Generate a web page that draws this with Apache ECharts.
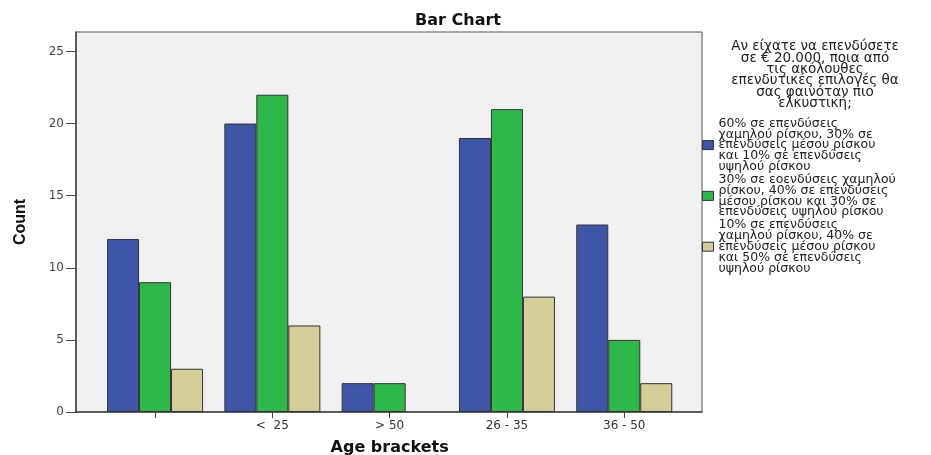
<!DOCTYPE html>
<html>
<head>
<meta charset="utf-8">
<script src="https://cdn.jsdelivr.net/npm/echarts@6/dist/echarts.min.js"></script>
<style>
  html, body { margin: 0; padding: 0; background: #fff; }
  #chart { width: 931px; height: 455px; }
</style>
</head>
<body>
<div id="chart"></div>
<script>
'use strict';

var categories = ['', '<  25', '> 50', '26 - 35', '36 - 50'];
var lowRisk = [12, 20, 2, 19, 13];
var midRisk = [9, 22, 2, 21, 5];
var highRisk = [3, 6, null, 8, 2];
var yTicks = [0, 5, 10, 15, 20, 25];

var seriesNames = [
  '60% σε επενδύσεις\nχαμηλού ρίσκου, 30% σε\nεπενδύσεις μέσου ρίσκου\nκαι 10% σε επενδύσεις\nυψηλού ρίσκου',
  '30% σε εοενδύσεις χαμηλού\nρίσκου, 40% σε επενδύσεις\nμέσου ρίσκου και 30% σε\nεπενδύσεις υψηλού ρίσκου',
  '10% σε επενδύσεις\nχαμηλού ρίσκου, 40% σε\nεπενδύσεις μέσου ρίσκου\nκαι 50% σε επενδύσεις\nυψηλού ρίσκου'
];
var legendTitle = 'Αν είχατε να επενδύσετε\nσε € 20.000, ποια από\nτις ακόλουθες\nεπενδυτικές επιλογές θα\nσας φαινόταν πιο\nελκυστική;';

var font = '"DejaVu Sans", "Liberation Sans", sans-serif';
var yMax = 26.35;

function bar(name, data, color) {
  return {
    name: name,
    type: 'bar',
    xAxisIndex: 1,
    yAxisIndex: 1,
    data: data,
    barWidth: 32,
    barGap: '0%',
    itemStyle: { color: color, borderColor: '#333', borderWidth: 1 }
  };
}

var option = {
  animation: false,
  backgroundColor: '#fff',
  title: {
    text: 'Bar Chart',
    left: 453,
    top: 8,
    textAlign: 'center',
    textStyle: { fontFamily: font, fontSize: 16, fontWeight: 'bold', color: '#111' }
  },
  grid: [
    { left: 76, top: 32, width: 626, height: 380, outerBoundsMode: 'none', show: true, backgroundColor: '#f0f0f0', borderColor: '#555', borderWidth: 1 },
    { left: 96.4, top: 32, width: 586.5, height: 380, outerBoundsMode: 'none' }
  ],
  xAxis: [
    {
      gridIndex: 0, type: 'value', min: 0, max: 1,
      axisLine: { show: true, lineStyle: { color: '#444', width: 1.5 } },
      axisTick: { show: false }, axisLabel: { show: false }, splitLine: { show: false }
    },
    {
      gridIndex: 1, type: 'category', data: categories,
      name: 'Age brackets', nameLocation: 'middle', nameGap: 28,
      nameTextStyle: { fontFamily: font, fontSize: 16, fontWeight: 'bold', color: '#111' },
      axisLine: { show: false },
      axisTick: { show: true, alignWithLabel: true, length: 6, lineStyle: { color: '#444' } },
      axisLabel: { fontFamily: font, fontSize: 12, color: '#333', margin: 8 }
    }
  ],
  yAxis: [
    {
      gridIndex: 0, type: 'value', min: 0, max: yMax,
      name: 'Count', nameLocation: 'middle', nameGap: 47, nameRotate: 90,
      nameTextStyle: { fontFamily: '"Liberation Sans Narrow", "Liberation Sans", sans-serif', fontSize: 16, fontWeight: 'bold', color: '#111' },
      axisLine: { show: true, lineStyle: { color: '#444', width: 1.5 } },
      axisTick: { show: true, length: 10, customValues: yTicks, lineStyle: { color: '#444' } },
      axisLabel: { fontFamily: font, fontSize: 12, color: '#444', margin: 12, customValues: yTicks },
      splitLine: { show: false }
    },
    { gridIndex: 1, type: 'value', min: 0, max: yMax, show: false }
  ],
  legend: {
    orient: 'vertical',
    left: 702,
    top: 117,
    padding: 0,
    itemWidth: 11,
    itemHeight: 9,
    itemGap: 0,
    icon: 'rect',
    textStyle: { fontFamily: font, fontSize: 12.5, lineHeight: 10.8, color: '#222' },
    itemStyle: { borderColor: '#333', borderWidth: 1 },
    data: seriesNames
  },
  graphic: [{
    type: 'text',
    x: 815,
    y: 41,
    style: {
      text: legendTitle,
      fontFamily: font,
      fontSize: 13.5,
      lineHeight: 11.4,
      fill: '#222',
      align: 'center',
      verticalAlign: 'top'
    }
  }],
  series: [
    bar(seriesNames[0], lowRisk, '#3f56a8'),
    bar(seriesNames[1], midRisk, '#2fb84a'),
    bar(seriesNames[2], highRisk, '#d3ce98')
  ]
};

var chart = echarts.init(document.getElementById('chart'));
chart.setOption(option);
</script>
</body>
</html>
